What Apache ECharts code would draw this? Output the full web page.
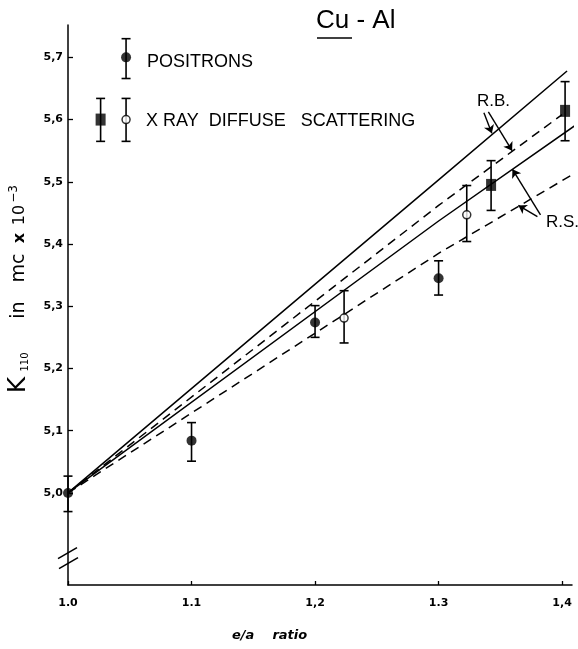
<!DOCTYPE html>
<html><head><meta charset="utf-8">
<script src="https://cdn.jsdelivr.net/npm/echarts@6/dist/echarts.min.js"></script>
<style>html,body{margin:0;padding:0;background:#fff}#c{width:578px;height:649px}</style>
</head><body><div id="c"></div>
<script>
// ---- tick values / labels ----
const xTickValues = [1.0, 1.1, 1.2, 1.3, 1.4];
const xTickLabels = ["1.0", "1.1", "1,2", "1.3", "1,4"];
const yTickValues = [5.0, 5.1, 5.2, 5.3, 5.4, 5.5, 5.6, 5.7];
const yTickLabels = ["5,0", "5,1", "5,2", "5,3", "5,4", "5,5", "5,6", "5,7"];

// ---- positrons (filled circles) ----
const posX  = [1.0,   1.1,   1.2,   1.3];
const posY  = [5.0,   5.084, 5.274, 5.345];
const posLo = [4.970, 5.051, 5.250, 5.318];
const posHi = [5.027, 5.113, 5.301, 5.373];

// ---- X ray diffuse scattering (open circles) ----
const xrOpenX  = [1.2235, 1.3228];
const xrOpenY  = [5.281,  5.447];
const xrOpenLo = [5.241,  5.404];
const xrOpenHi = [5.325,  5.494];

// ---- X ray diffuse scattering (squares) ----
const xrSqX  = [1.3425, 1.4024];
const xrSqY  = [5.495,  5.614];
const xrSqLo = [5.454,  5.566];
const xrSqHi = [5.534,  5.661];

// ---- theory curves ----
const rbSolidX = [1.0, 1.30, 1.404];
const rbSolidY = [5.0, 5.503, 5.678];
const rbDashX  = [1.0, 1.30, 1.400];
const rbDashY  = [5.0, 5.462, 5.608];
const rsSolidX = [1.0, 1.30, 1.413];
const rsSolidY = [5.0, 5.437, 5.594];
const rsDashX  = [1.0, 1.30, 1.413];
const rsDashY  = [5.0, 5.385, 5.517];

// ---- key samples drawn inside the plot ----
const keyPosX = [1.047], keyPosY = [5.700], keyPosLo = [5.666], keyPosHi = [5.730];
const keyOpenX = [1.047], keyOpenY = [5.600], keyOpenLo = [5.565], keyOpenHi = [5.634];
const keySqX = [1.0264], keySqY = [5.600], keySqLo = [5.565], keySqHi = [5.634];

// ---- axis break position ----
const breakX = [1.0], breakY = [4.896];

// ---- annotation arrows [fromX, fromY, toX, toY] ----
const rbArrows = [[1.3367, 5.611, 1.3431, 5.578], [1.3403, 5.6125, 1.3595, 5.550]];
const rsArrows = [[1.3825, 5.447, 1.3598, 5.520], [1.3800, 5.444, 1.3646, 5.462]];

const zip = (a, b) => a.map((v, i) => [v, b[i]]);
const zip3 = (a, b, c) => a.map((v, i) => [v, b[i], c[i]]);

function errRender(params, api) {
  const x = api.value(0), lo = api.value(1), hi = api.value(2);
  const p1 = api.coord([x, hi]), p2 = api.coord([x, lo]);
  const cw = 4.5;
  const st = { stroke: '#000', lineWidth: 1.6 };
  return { type: 'group', children: [
    { type: 'line', shape: { x1: p1[0], y1: p1[1], x2: p2[0], y2: p2[1] }, style: st },
    { type: 'line', shape: { x1: p1[0] - cw, y1: p1[1], x2: p1[0] + cw, y2: p1[1] }, style: st },
    { type: 'line', shape: { x1: p2[0] - cw, y1: p2[1], x2: p2[0] + cw, y2: p2[1] }, style: st }
  ]};
}
function breakRender(params, api) {
  const p = api.coord([api.value(0), api.value(1)]);
  const st = { stroke: '#000', lineWidth: 1.6 };
  return { type: 'group', children: [
    { type: 'line', shape: { x1: p[0] - 10, y1: p[1] + 1, x2: p[0] + 9, y2: p[1] - 10 }, style: st },
    { type: 'line', shape: { x1: p[0] - 9, y1: p[1] + 11, x2: p[0] + 10, y2: p[1] }, style: st }
  ]};
}
function errSeries(x, lo, hi) {
  return { type: 'custom', renderItem: errRender, data: zip3(x, lo, hi), z: 3, silent: true,
           encode: { x: 0, y: [1, 2] } };
}
function arrowLines(arr) {
  return arr.map(a => [{ coord: [a[0], a[1]] }, { coord: [a[2], a[3]] }]);
}
function lineSeries(x, y, dashed, extra) {
  return Object.assign({
    type: 'line', data: zip(x, y), showSymbol: false, symbol: 'none', clip: false, z: 2,
    lineStyle: { color: '#000', width: 1.5, type: dashed ? [9, 6] : 'solid' }, silent: true
  }, extra || {});
}
const arrowMark = (arr) => ({
  silent: true, symbol: ['none', 'arrow'], symbolSize: 8, precision: 4,
  label: { show: false }, lineStyle: { color: '#000', width: 1.4, type: 'solid' },
  emphasis: { disabled: true }, data: arrowLines(arr)
});

const chart = echarts.init(document.getElementById('c'), null, { renderer: 'canvas' });
chart.setOption({
  animation: false,
  backgroundColor: '#fff',
  grid: { left: 68, right: 6, top: 25, bottom: 64, containLabel: false },
  xAxis: {
    type: 'value', min: 1.0, max: 1.408,
    axisLine: { show: true, lineStyle: { color: '#000', width: 1.5 } },
    axisTick: { show: true, inside: true, length: 4, customValues: xTickValues, lineStyle: { color: '#000', width: 1.3 } },
    axisLabel: { show: true, margin: 13, customValues: xTickValues, color: '#000', fontFamily: 'DejaVu Sans', fontWeight: 'bold', fontSize: 11,
      formatter: v => { const i = xTickValues.findIndex(t => Math.abs(t - v) < 1e-6); return i >= 0 ? xTickLabels[i] : ''; } },
    splitLine: { show: false }
  },
  yAxis: {
    type: 'value', min: 4.852, max: 5.752,
    axisLine: { show: true, lineStyle: { color: '#000', width: 1.5 } },
    axisTick: { show: true, inside: true, length: 5, customValues: yTickValues, lineStyle: { color: '#000', width: 1.3 } },
    axisLabel: { show: true, margin: 5, customValues: yTickValues, color: '#000', fontFamily: 'DejaVu Sans', fontWeight: 'bold', fontSize: 11,
      formatter: v => { const i = yTickValues.findIndex(t => Math.abs(t - v) < 1e-6); return i >= 0 ? yTickLabels[i] : ''; } },
    splitLine: { show: false }
  },
  series: [
    lineSeries(rbSolidX, rbSolidY, false, { markLine: arrowMark(rbArrows) }),
    lineSeries(rbDashX, rbDashY, true),
    lineSeries(rsSolidX, rsSolidY, false, { markLine: arrowMark(rsArrows) }),
    lineSeries(rsDashX, rsDashY, true),
    errSeries(posX, posLo, posHi),
    errSeries(xrOpenX, xrOpenLo, xrOpenHi),
    errSeries(xrSqX, xrSqLo, xrSqHi),
    errSeries(keyPosX, keyPosLo, keyPosHi),
    errSeries(keyOpenX, keyOpenLo, keyOpenHi),
    errSeries(keySqX, keySqLo, keySqHi),
    { type: 'scatter', data: zip(posX, posY).concat(zip(keyPosX, keyPosY)), symbol: 'circle', symbolSize: 10, z: 5, silent: true,
      itemStyle: { color: '#000' } },
    { type: 'scatter', data: zip(xrOpenX, xrOpenY).concat(zip(keyOpenX, keyOpenY)), symbol: 'circle', symbolSize: 8, z: 5, silent: true,
      itemStyle: { color: '#fff', borderColor: '#000', borderWidth: 1.5 } },
    { type: 'scatter', data: zip(xrSqX, xrSqY).concat(zip(keySqX, keySqY)), symbol: 'rect', symbolSize: [10, 12], z: 5, silent: true,
      itemStyle: { color: '#000' } },
    { type: 'custom', renderItem: breakRender, data: zip(breakX, breakY), z: 6, silent: true, clip: false }
  ],
  graphic: [
    // title
    { type: 'text', left: 316, top: 8, style: { text: 'Cu - Al', font: '26px "Liberation Sans"', fill: '#000' } },
    { type: 'line', shape: { x1: 317, y1: 38, x2: 352, y2: 38 }, style: { stroke: '#000', lineWidth: 1.3 } },
    // key texts
    { type: 'text', left: 147, top: 53, style: { text: 'POSITRONS', font: '18px "Liberation Sans"', fill: '#000' } },
    { type: 'text', left: 146, top: 112, style: { text: 'X RAY  DIFFUSE   SCATTERING', font: '18px "Liberation Sans"', fill: '#000' } },
    // curve labels
    { type: 'text', left: 477, top: 93, style: { text: 'R.B.', font: '17px "Liberation Sans"', fill: '#000' } },
    { type: 'text', left: 546, top: 214, style: { text: 'R.S.', font: '17px "Liberation Sans"', fill: '#000' } },
    // x axis name
    { type: 'text', left: 232, top: 629, style: { text: 'e/a    ratio', font: 'italic bold 13px "DejaVu Sans"', fill: '#000' } },
    // y axis name pieces (rotated)
    { type: 'text', x: 18, y: 385, rotation: Math.PI / 2, style: { text: 'K', font: '25px "DejaVu Sans"', fill: '#000', align: 'center', verticalAlign: 'middle' } },
    { type: 'text', x: 25, y: 362, rotation: Math.PI / 2, style: { text: '110', font: '10px "DejaVu Sans"', fill: '#000', align: 'center', verticalAlign: 'middle' } },
    { type: 'text', x: 19, y: 310, rotation: Math.PI / 2, style: { text: 'in', font: '19px "DejaVu Sans"', fill: '#000', align: 'center', verticalAlign: 'middle' } },
    { type: 'text', x: 19, y: 268, rotation: Math.PI / 2, style: { text: 'mc', font: '19px "DejaVu Sans"', fill: '#000', align: 'center', verticalAlign: 'middle' } },
    { type: 'text', x: 20, y: 238, rotation: Math.PI / 2, style: { text: 'x', font: 'bold 16px "DejaVu Sans"', fill: '#000', align: 'center', verticalAlign: 'middle' } },
    { type: 'text', x: 20, y: 215, rotation: Math.PI / 2, style: { text: '10', font: '16px "DejaVu Sans"', fill: '#000', align: 'center', verticalAlign: 'middle' } },
    { type: 'text', x: 14, y: 194, rotation: Math.PI / 2, style: { text: '−3', font: '12px "DejaVu Sans"', fill: '#000', align: 'center', verticalAlign: 'middle' } }
  ]
});
</script></body></html>
